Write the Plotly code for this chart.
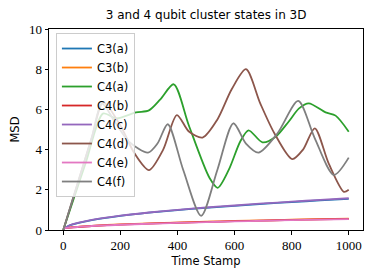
import plotly.graph_objects as go

names = ["C3(a)", "C3(b)", "C4(a)", "C4(b)", "C4(c)", "C4(d)", "C4(e)", "C4(f)"]
colors = ["#1f77b4", "#ff7f0e", "#2ca02c", "#d62728", "#9467bd", "#8c564b", "#e377c2", "#7f7f7f"]

# low curves share a common time grid
t_low = [0, 25, 50, 100, 200, 300, 400, 500, 600, 700, 800, 900, 1000]
c3a = [0.05, 0.24, 0.34, 0.49, 0.70, 0.86, 0.99, 1.10, 1.20, 1.30, 1.39, 1.47, 1.55]
c3b = [0.08, 0.13, 0.16, 0.21, 0.28, 0.33, 0.37, 0.41, 0.45, 0.48, 0.51, 0.54, 0.57]
c4b = [0.08, 0.12, 0.15, 0.20, 0.27, 0.32, 0.36, 0.40, 0.44, 0.47, 0.50, 0.53, 0.55]
c4c = [0.05, 0.25, 0.35, 0.50, 0.71, 0.87, 1.00, 1.12, 1.22, 1.32, 1.41, 1.50, 1.58]
c4e = [0.08, 0.12, 0.15, 0.20, 0.26, 0.31, 0.35, 0.39, 0.43, 0.46, 0.49, 0.52, 0.54]

t_c4a = [0, 40, 80, 140, 185, 255, 300, 340, 387, 440, 512, 541, 580, 620, 649, 698, 744, 790, 826, 860, 919, 954, 1000]
c4a = [0, 1.7, 3.4, 5.8, 5.55, 5.85, 5.95, 6.5, 7.25, 5.2, 2.6, 2.1, 3.0, 4.4, 4.96, 4.36, 4.64, 5.4, 6.05, 6.3, 5.85, 5.69, 4.89]

t_c4d = [0, 50, 100, 140, 200, 250, 300, 350, 398, 440, 488, 540, 590, 640, 690, 740, 802, 840, 881, 930, 983, 1000]
c4d = [0, 2.3, 4.6, 6.35, 5.2, 3.8, 2.98, 4.0, 5.72, 4.9, 4.6, 5.5, 7.0, 8.0, 6.3, 4.8, 3.53, 4.0, 5.06, 3.3, 1.9, 2.0]

t_c4f = [0, 50, 100, 135, 180, 230, 297, 330, 366, 420, 483, 540, 596, 640, 684, 750, 823, 880, 948, 1000]
c4f = [0, 2.3, 4.6, 6.3, 5.4, 4.4, 3.85, 4.3, 5.26, 3.0, 0.71, 3.0, 5.31, 4.3, 3.85, 4.8, 6.42, 4.6, 2.74, 3.6]

xs = [t_low, t_low, t_c4a, t_low, t_low, t_c4d, t_low, t_c4f]
ys = [c3a, c3b, c4a, c4b, c4c, c4d, c4e, c4f]

x_ticks = [0, 200, 400, 600, 800, 1000]
y_ticks = [0, 2, 4, 6, 8, 10]

fig = go.Figure()
for i, (n, c, x, y) in enumerate(zip(names, colors, xs, ys)):
    fig.add_trace(go.Scatter(x=x, y=y, mode="lines", name=n,
                             line=dict(color=c, width=1.8, shape="spline", smoothing=0.8)))

sans = "DejaVu Sans"
serif = "Liberation Serif"
fig.update_layout(
    width=374, height=278,
    margin=dict(l=49, r=11, t=29, b=48, autoexpand=False),
    paper_bgcolor="white", plot_bgcolor="white",
    title=dict(text="3 and 4 qubit cluster states in 3D", x=0.551, xanchor="center",
               y=0.945, yanchor="middle", font=dict(family=sans, size=12, color="black")),
    showlegend=True,
    legend=dict(x=0.022, y=0.98, xanchor="left", yanchor="top",
                bgcolor="rgba(255,255,255,0.8)", bordercolor="#cccccc", borderwidth=1,
                font=dict(family=sans, size=11.5, color="black"),
                traceorder="normal"),
    xaxis=dict(range=[-50, 1050], tickvals=x_ticks, ticktext=[str(v) for v in x_ticks],
               ticks="outside", ticklen=3.5, tickwidth=0.8, tickcolor="black",
               showline=True, linecolor="black", linewidth=1, mirror=True,
               showgrid=False, zeroline=False, automargin=False,
               tickfont=dict(family=serif, size=13, color="black"),
               title=dict(text="Time Stamp", font=dict(family=sans, size=11.5, color="black"), standoff=4)),
    yaxis=dict(range=[0, 10], tickvals=y_ticks, ticktext=[str(v) for v in y_ticks],
               ticks="outside", ticklen=3.5, tickwidth=0.8, tickcolor="black",
               showline=True, linecolor="black", linewidth=1, mirror=True,
               showgrid=False, zeroline=False, automargin=False,
               tickfont=dict(family=serif, size=13, color="black"),
               title=dict(text="MSD", font=dict(family=sans, size=11.5, color="black"), standoff=6)),
)

fig.write_html("out.html", config={"displayModeBar": False},
               post_script="document.body.style.margin='0';document.body.style.overflow='hidden';")
